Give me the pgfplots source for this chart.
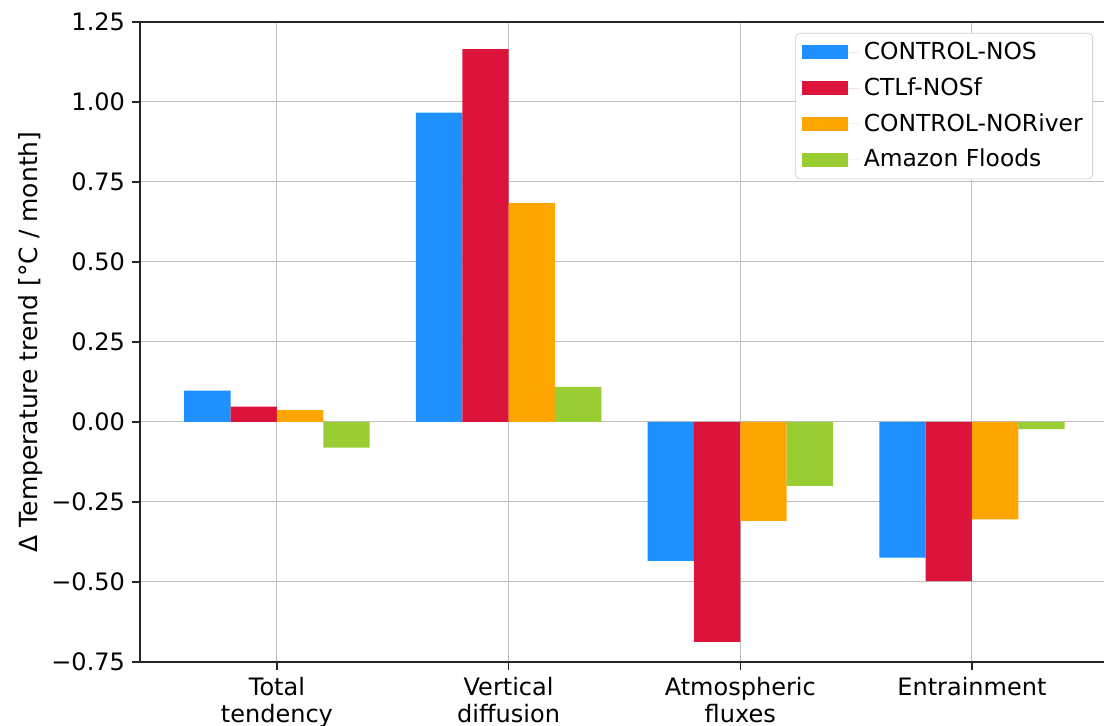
\documentclass[border=0pt]{standalone}
\usepackage{pgfplots}
\pgfplotsset{compat=1.18}
\usepackage{fontspec}
\setmainfont{DejaVu Sans}
\definecolor{cblue}{HTML}{1E90FF}
\definecolor{cred}{HTML}{DC143C}
\definecolor{corange}{HTML}{FFA500}
\definecolor{cgreen}{HTML}{9ACD32}
\begin{document}
\begin{tikzpicture}
\begin{axis}[
  scale only axis, width=482pt, height=320pt,
  xmin=-0.591, xmax=3.57, ymin=-0.75, ymax=1.25,
  axis x line*=box, axis y line*=left,
  axis line style={line width=0.7pt, black!85},
  ybar, bar width=0.2,
  xtick={0,1,2,3},
  xticklabels={{Total\\tendency},{Vertical\\diffusion},{Atmospheric\\fluxes},{Entrainment}},
  xticklabel style={align=center, font=\fontsize{12}{13.5}\selectfont},
  ytick={-0.75,-0.5,-0.25,0,0.25,0.5,0.75,1,1.25},
  yticklabels={−0.75,−0.50,−0.25,0.00,0.25,0.50,0.75,1.00,1.25},
  yticklabel style={font=\fontsize{12}{14}\selectfont},
  tick align=outside, xtick pos=left, ytick pos=left,
  major tick length=4pt,
  tick style={black!85, line width=0.6pt},
  grid=major,
  major grid style={gray!50, line width=0.5pt},
  ylabel={Δ Temperature trend [°C / month]},
  ylabel style={font=\fontsize{12.5}{14}\selectfont, at={(axis description cs:-0.114,0.5)}, anchor=center},
  legend style={at={(0.9886,0.983)}, anchor=north east, draw=gray!35, rounded corners=2pt, fill=white,
    font=\fontsize{11.7}{14}\selectfont, row sep=3.5pt, inner xsep=3pt, inner ysep=2.5pt,
    cells={anchor=west}},
  legend image code/.code={\fill[#1, sharp corners] (0pt,-3.5pt) rectangle (23pt,3.5pt); \path (0pt,0pt) -- (29pt,0pt);},
]
\addplot[fill=cblue, draw=none, bar shift=-0.3] coordinates {(0,0.098) (1,0.967) (2,-0.434) (3,-0.424)};
\addplot[fill=cred, draw=none, bar shift=-0.1] coordinates {(0,0.048) (1,1.165) (2,-0.687) (3,-0.497)};
\addplot[fill=corange, draw=none, bar shift=0.1] coordinates {(0,0.037) (1,0.684) (2,-0.309) (3,-0.304)};
\addplot[fill=cgreen, draw=none, bar shift=0.3] coordinates {(0,-0.080) (1,0.110) (2,-0.200) (3,-0.022)};
\legend{CONTROL-NOS,CTLf-NOSf,CONTROL-NORiver,Amazon Floods}
\end{axis}
\pgfresetboundingbox
\useasboundingbox ([xshift=-70pt,yshift=-32pt]current axis.south west) rectangle ([yshift=11pt]current axis.north east);
\end{tikzpicture}
\end{document}
